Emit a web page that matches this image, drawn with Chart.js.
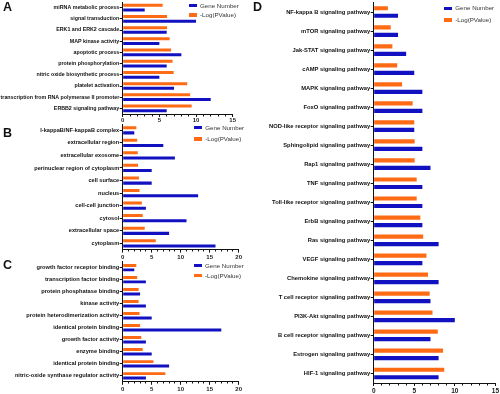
<!DOCTYPE html>
<html><head><meta charset="utf-8">
<script src="https://cdn.jsdelivr.net/npm/chart.js@4.4.0/dist/chart.umd.min.js"></script>
<style>
html,body{margin:0;padding:0;background:#fff;}
body{width:500px;height:394px;position:relative;overflow:hidden;font-family:'Liberation Sans',Arial,Helvetica,sans-serif;}
canvas{position:absolute;}
.lt{position:absolute;font-weight:bold;font-size:12.5px;line-height:12px;color:#111;}
.sw{position:absolute;width:8px;height:3.5px;}
.lg{position:absolute;font-size:6.2px;line-height:6px;height:6px;color:#333;white-space:nowrap;}
</style></head><body>
<canvas id="cA"></canvas><canvas id="cB"></canvas><canvas id="cC"></canvas><canvas id="cD"></canvas>
<div class="lt" style="left:3px;top:1.3px">A</div>
<div class="lt" style="left:3px;top:127px">B</div>
<div class="lt" style="left:3px;top:258.6px">C</div>
<div class="lt" style="left:253px;top:1.3px">D</div>
<div id="legends"></div>
<script>
// ---- data ----
const catsA = ['miRNA metabolic process','signal transduction','ERK1 and ERK2 cascade','MAP kinase activity','apoptotic process','protein phosphorylation','nitric oxide biosynthetic process','platelet activation','transcription from RNA polymerase II promoter','ERBB2 signaling pathway'];
const geneA = [3,10,6,5,8,6,5,7,12,6];
const logpA = [5.45,6.05,6.05,6.4,6.6,6.8,6.95,8.8,9.2,9.4];

const catsB = ['I-kappaB/NF-kappaB complex','extracellular region','extracellular exosome','perinuclear region of cytoplasm','cell surface','nucleus','cell-cell junction','cytosol','extracellular space','cytoplasm'];
const geneB = [2,7,9,5,5,13,4,11,8,16];
const logpB = [2.35,2.5,2.6,2.65,2.8,2.9,3.3,3.45,3.8,5.7];

const catsC = ['growth factor receptor binding','transcription factor binding','protein phosphatase binding','kinase activity','protein heterodimerization activity','identical protein binding','growth factor activity','enzyme binding','identical protein binding','nitric-oxide synthase regulator activity'];
const geneC = [2,4,3,4,5,17,4,5,8,4];
const logpC = [2.35,2.5,2.75,2.75,2.9,3.0,3.2,3.45,5.3,7.35];

const catsD = ['NF-kappa B signaling pathway','mTOR signaling pathway','Jak-STAT signaling pathway','cAMP signaling pathway','MAPK signaling pathway','FoxO signaling pathway','NOD-like receptor signaling pathway','Sphingolipid signaling pathway','Rap1 signaling pathway','TNF signaling pathway','Toll-like receptor signaling pathway','ErbB signaling pathway','Ras signaling pathway','VEGF signaling pathway','Chemokine signaling pathway','T cell receptor signaling pathway','PI3K-Akt signaling pathway','B cell receptor signaling pathway','Estrogen signaling pathway','HIF-1 signaling pathway'];
const geneD = [3,3,4,5,6,6,5,6,7,6,6,6,8,6,8,7,10,7,8,8];
const logpD = [1.75,2.1,2.3,2.9,3.5,4.8,5.0,5.05,5.05,5.3,5.3,5.75,6.1,6.5,6.7,6.9,7.25,7.9,8.55,8.7];

const seriesNames = ['Gene Number','-Log(PValue)'];
const BLUE = '#1111C2', ORANGE = '#FF6A14';

Chart.defaults.font.family = "'Liberation Sans', Arial, Helvetica, sans-serif";
Chart.defaults.color = '#1a1a1a';

function panel(id, box, cats, gene, logp, o) {
  const cv = document.getElementById(id);
  cv.width = box.w; cv.height = box.h;
  cv.style.left = box.x + 'px'; cv.style.top = box.y + 'px';
  cv.style.width = box.w + 'px'; cv.style.height = box.h + 'px';
  new Chart(cv, {
    type: 'bar',
    data: { labels: cats, datasets: [
      { label: seriesNames[1], data: logp, backgroundColor: ORANGE, borderWidth: 0, categoryPercentage: o.cat, barPercentage: o.bar },
      { label: seriesNames[0], data: gene, backgroundColor: BLUE, borderWidth: 0, categoryPercentage: o.cat, barPercentage: o.bar }
    ]},
    options: {
      indexAxis: 'y', responsive: false, animation: false, devicePixelRatio: 1,
      layout: { padding: { left: 0, top: o.areaT - box.y, right: box.x + box.w - o.areaR, bottom: 0 } },
      plugins: { legend: { display: false }, tooltip: { enabled: false } },
      scales: {
        x: {
          min: 0, max: o.max,
          afterFit: s => { s.height = box.y + box.h - o.areaB; },
          border: { display: true, color: '#111', width: 1 },
          grid: { display: true, drawOnChartArea: false, drawTicks: true, tickLength: 3, tickColor: '#111',
                  tickBorderDash: c => (c.tick && c.tick.value % 5 === 0) ? [] : [1.5, 20] },
          ticks: { stepSize: 1, autoSkip: false, maxRotation: 0, padding: o.xpad, color: '#1a1a1a',
                   font: { size: o.xfs, weight: 'bold' }, callback: v => (v % 5 === 0 ? String(v) : '') }
        },
        y: {
          afterFit: s => { s.width = o.areaL - box.x; s.paddingTop = 0; s.paddingBottom = 0; },
          border: { display: true, color: '#111', width: 1 },
          grid: { offset: false, drawOnChartArea: false, drawTicks: true, tickLength: 3, tickColor: '#111' },
          ticks: { autoSkip: false, padding: 0.5, color: '#111', font: { size: o.yfs, weight: 'bold' } }
        }
      }
    }
  });
}

panel('cA', {x:0,y:0,w:250,h:124}, catsA, geneA, logpA,
  {areaL:122.7, areaR:232.7, areaT:2, areaB:114, max:15, cat:0.84, bar:0.64, yfs:5.3, xfs:6, xpad:0});
panel('cB', {x:0,y:120,w:250,h:142}, catsB, geneB, logpB,
  {areaL:122.7, areaR:238.7, areaT:124, areaB:249.6, max:20, cat:0.83, bar:0.58, yfs:5.6, xfs:6, xpad:1});
panel('cC', {x:0,y:258,w:250,h:136}, catsC, geneC, logpC,
  {areaL:122.7, areaR:238.7, areaT:261.7, areaB:381.8, max:20, cat:0.72, bar:0.69, yfs:5.7, xfs:6, xpad:1});
panel('cD', {x:250,y:0,w:250,h:394}, catsD, geneD, logpD,
  {areaL:373.7, areaR:495.7, areaT:2.5, areaB:383, max:15, cat:0.79, bar:0.56, yfs:5.8, xfs:6.5, xpad:1});

// legends
const legendPos = [
  {sx:189, tx:200, y1:5.7, y2:15},
  {sx:194, tx:205.3, y1:127.5, y2:139},
  {sx:194, tx:205, y1:265.7, y2:275.7},
  {sx:444, tx:455.3, y1:8.4, y2:20}
];
const lgDiv = document.getElementById('legends');
legendPos.forEach(p => {
  [[p.y1, BLUE, seriesNames[0]], [p.y2, ORANGE, seriesNames[1]]].forEach(([cy, col, name]) => {
    const s = document.createElement('div'); s.className = 'sw';
    s.style.left = p.sx + 'px'; s.style.top = (cy - 1.75) + 'px'; s.style.background = col;
    lgDiv.appendChild(s);
    const t = document.createElement('div'); t.className = 'lg';
    t.style.left = p.tx + 'px'; t.style.top = (cy - 3) + 'px'; t.textContent = name;
    lgDiv.appendChild(t);
  });
});
</script>
</body></html>
